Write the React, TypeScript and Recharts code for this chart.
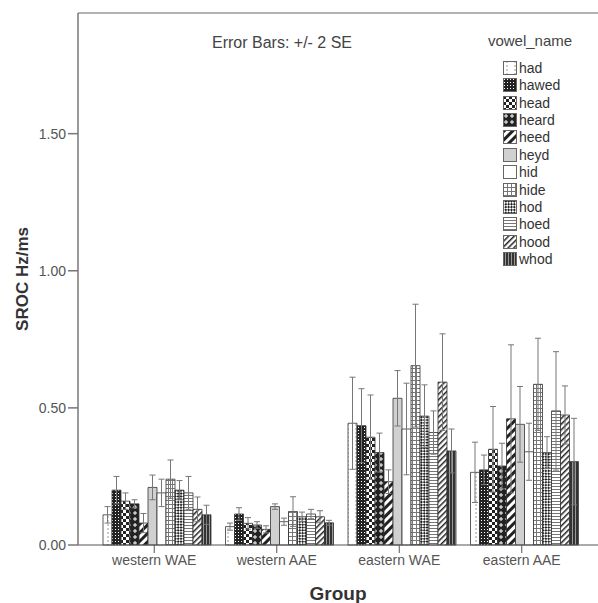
import { BarChart, Bar, XAxis, YAxis, ErrorBar, ReferenceLine } from "recharts"

const groups = ["western WAE", "western AAE", "eastern WAE", "eastern AAE"]
const vowels = ["had", "hawed", "head", "heard", "heed", "heyd", "hid", "hide", "hod", "hoed", "hood", "whod"]

// mean SROC per vowel, one array per group
const westernWAE = [0.11, 0.2, 0.16, 0.15, 0.08, 0.21, 0.19, 0.24, 0.2, 0.19, 0.13, 0.11]
const westernAAE = [0.067, 0.113, 0.079, 0.073, 0.057, 0.14, 0.085, 0.122, 0.103, 0.113, 0.103, 0.081]
const easternWAE = [0.444, 0.435, 0.393, 0.337, 0.231, 0.535, 0.423, 0.654, 0.47, 0.41, 0.594, 0.343]
const easternAAE = [0.265, 0.274, 0.349, 0.288, 0.46, 0.44, 0.34, 0.586, 0.337, 0.489, 0.474, 0.304]

// +/- 2 SE
const westernWAEErr = [0.03, 0.05, 0.03, 0.015, 0.035, 0.045, 0.05, 0.07, 0.035, 0.06, 0.045, 0.035]
const westernAAEErr = [0.013, 0.023, 0.021, 0.012, 0.013, 0.01, 0.013, 0.054, 0.017, 0.017, 0.022, 0.009]
const easternWAEErr = [0.168, 0.135, 0.154, 0.071, 0.043, 0.101, 0.167, 0.224, 0.114, 0.079, 0.176, 0.08]
const easternAAEErr = [0.11, 0.054, 0.156, 0.083, 0.27, 0.138, 0.104, 0.168, 0.058, 0.216, 0.106, 0.158]

const yTicks = [0, 0.5, 1, 1.5]
const yMax = 1.94

const means = [westernWAE, westernAAE, easternWAE, easternAAE]
const errs = [westernWAEErr, westernAAEErr, easternWAEErr, easternAAEErr]

const data = groups.map((g, gi) => {
    const row: Record<string, any> = { group: g }
    vowels.forEach((v, vi) => {
        row[v] = means[gi][vi]
        row[v + "_err"] = errs[gi][vi]
    })
    return row
})

const FONT = "'Liberation Sans', Arial, sans-serif"

function Patterns() {
    return (
        <svg width={0} height={0} style={{ position: "absolute" }}>
            <defs>
                <pattern id="p_had" width="8" height="4" patternUnits="userSpaceOnUse">
                    <rect width="8" height="4" fill="#fff" />
                    <line x1="4" y1="0" x2="4" y2="2" stroke="#999" strokeWidth="1" />
                </pattern>
                <pattern id="p_hawed" width="3" height="3" patternUnits="userSpaceOnUse">
                    <rect width="3" height="3" fill="#222" />
                    <rect x="1" y="1" width="1" height="1" fill="#fff" />
                </pattern>
                <pattern id="p_head" width="6" height="6" patternUnits="userSpaceOnUse">
                    <rect width="6" height="6" fill="#fff" />
                    <rect width="3" height="3" fill="#222" />
                    <rect x="3" y="3" width="3" height="3" fill="#222" />
                </pattern>
                <pattern id="p_heard" width="6" height="6" patternUnits="userSpaceOnUse">
                    <rect width="6" height="6" fill="#222" />
                    <rect x="2.5" y="1" width="1" height="4" fill="#fff" />
                    <rect x="1" y="2.5" width="4" height="1" fill="#fff" />
                </pattern>
                <pattern id="p_heed" width="6" height="6" patternUnits="userSpaceOnUse" patternTransform="rotate(45)">
                    <rect width="6" height="6" fill="#fff" />
                    <rect width="3" height="6" fill="#222" />
                </pattern>
                <pattern id="p_hide" width="4" height="4" patternUnits="userSpaceOnUse">
                    <rect width="4" height="4" fill="#fff" />
                    <path d="M0 0.5H4M0.5 0V4" stroke="#777" strokeWidth="1" />
                </pattern>
                <pattern id="p_hod" width="4" height="4" patternUnits="userSpaceOnUse" patternTransform="rotate(45)">
                    <rect width="4" height="4" fill="#fff" />
                    <rect width="2" height="2" fill="#222" />
                    <rect x="2" y="2" width="2" height="2" fill="#222" />
                </pattern>
                <pattern id="p_hoed" width="4" height="3" patternUnits="userSpaceOnUse">
                    <rect width="4" height="3" fill="#fff" />
                    <line x1="0" y1="0.5" x2="4" y2="0.5" stroke="#777" strokeWidth="1" />
                </pattern>
                <pattern id="p_hood" width="4" height="4" patternUnits="userSpaceOnUse" patternTransform="rotate(45)">
                    <rect width="4" height="4" fill="#fff" />
                    <rect width="1.5" height="4" fill="#222" />
                </pattern>
                <pattern id="p_whod" width="3" height="3" patternUnits="userSpaceOnUse">
                    <rect width="3" height="3" fill="#333" />
                    <rect x="2" width="1" height="3" fill="#999" />
                </pattern>
            </defs>
        </svg>
    )
}

const fills: Record<string, string> = {
    had: "url(#p_had)",
    hawed: "url(#p_hawed)",
    head: "url(#p_head)",
    heard: "url(#p_heard)",
    heed: "url(#p_heed)",
    heyd: "#d0d0d0",
    hid: "#ffffff",
    hide: "url(#p_hide)",
    hod: "url(#p_hod)",
    hoed: "url(#p_hoed)",
    hood: "url(#p_hood)",
    whod: "url(#p_whod)",
}

function VowelLegend() {
    return (
        <div style={{ fontFamily: FONT, color: "#333" }}>
            <div style={{ position: "absolute", left: 474, top: 32, width: 112, textAlign: "center", fontSize: 15, lineHeight: "18px", color: "#444" }}>
                vowel_name
            </div>
            {vowels.map((v, i) => (
                <div key={v} style={{ position: "absolute", left: 503, top: 59.5 + i * 17.36, height: 17, display: "flex", alignItems: "center" }}>
                    <svg width={14} height={14} style={{ marginRight: 2 }}>
                        <rect x={0.5} y={0.5} width={13} height={13} fill={fills[v]} stroke="#666" />
                    </svg>
                    <span style={{ fontSize: 14 }}>{v}</span>
                </div>
            ))}
        </div>
    )
}

export default function App() {
    return (
        <div style={{ position: "absolute", left: 0, top: 0, width: 598, height: 603, background: "#fff" }}>
            <Patterns />
            <BarChart
                width={598}
                height={603}
                data={data}
                margin={{ top: 13, right: 0, bottom: 0, left: 0 }}
                barCategoryGap={10}
                barGap={0}
            >
                <XAxis
                    dataKey="group"
                    height={58}
                    padding={{ left: 15, right: 15 }}
                    stroke="#555"
                    tickSize={8}
                    tick={{ fill: "#555", fontSize: 14, fontFamily: FONT }}
                    label={{ value: "Group", position: "insideBottom", offset: 3, style: { fontFamily: FONT, fontWeight: "bold", fontSize: 19, fill: "#333" } }}
                />
                <YAxis
                    width={78}
                    domain={[0, yMax]}
                    ticks={yTicks}
                    tickFormatter={(v: number) => v.toFixed(2)}
                    stroke="#777"
                    strokeWidth={1.5}
                    tickSize={10}
                    tick={{ fill: "#555", fontSize: 14, fontFamily: FONT }}
                    label={{ value: "SROC Hz/ms", angle: -90, position: "insideLeft", offset: 22, style: { textAnchor: "middle", fontFamily: FONT, fontWeight: "bold", fontSize: 17, fill: "#333" } }}
                />
                <ReferenceLine y={yMax} stroke="#999" strokeWidth={1.5} />
                {vowels.map(v => (
                    <Bar
                        key={v}
                        dataKey={v}
                        fill={fills[v]}
                        stroke="#333"
                        strokeWidth={0.8}
                        isAnimationActive={false}
                    >
                        <ErrorBar dataKey={v + "_err"} width={3} stroke="#777" strokeWidth={1} />
                    </Bar>
                ))}
            </BarChart>
            <div style={{ position: "absolute", left: 212, top: 34, fontFamily: FONT, fontSize: 16, color: "#444" }}>
                Error Bars: +/- 2 SE
            </div>
            <VowelLegend />
        </div>
    )
}
